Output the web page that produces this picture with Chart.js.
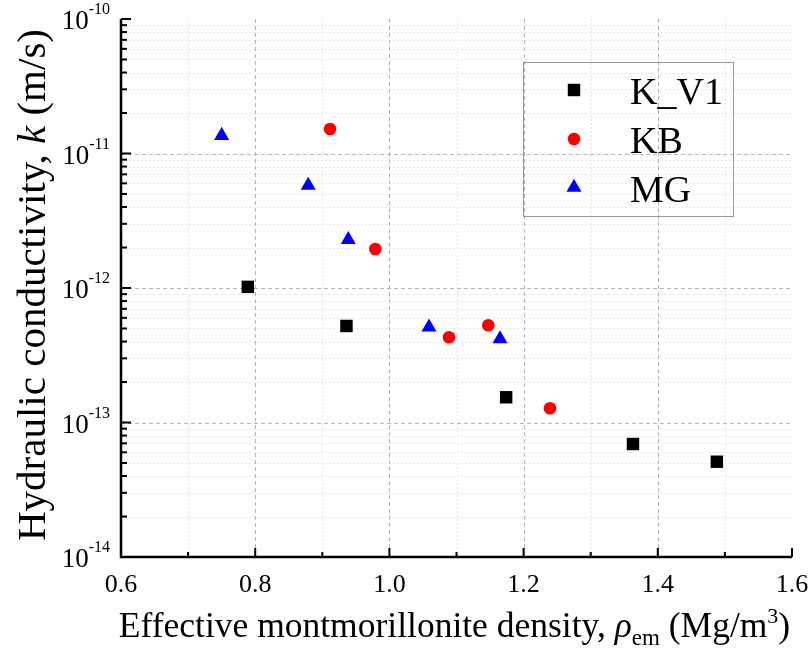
<!DOCTYPE html>
<html>
<head>
<meta charset="utf-8">
<script src="https://cdn.jsdelivr.net/npm/chart.js@4.4.1/dist/chart.umd.min.js"></script>
<style>
  html, body { margin: 0; padding: 0; background: #fff; }
  #c { display: block; }
</style>
</head>
<body>
<canvas id="c" width="810" height="650" style="width:810px;height:650px"></canvas>
<script>
// ---- data ----
const kv1X = [0.789, 0.936, 1.174, 1.363, 1.488];
const kv1Y = [1.02e-12, 5.22e-13, 1.54e-13, 6.92e-14, 5.11e-14];
const kbX  = [0.9115, 0.979, 1.0888, 1.1474, 1.2393];
const kbY  = [1.52e-11, 1.95e-12, 4.30e-13, 5.28e-13, 1.275e-13];
const mgX  = [0.750, 0.879, 0.9387, 1.059, 1.1648];
const mgY  = [1.36e-11, 5.78e-12, 2.29e-12, 5.11e-13, 4.18e-13];
const seriesNames = ['K_V1', 'KB', 'MG'];
const xTicks = [0.6, 0.8, 1.0, 1.2, 1.4, 1.6];
const xMinorTicks = [0.7, 0.9, 1.1, 1.3, 1.5];
const yTickExps = [-14, -13, -12, -11, -10];

const SERIF = '"Liberation Serif", "Times New Roman", serif';

function pts(xs, ys) { return xs.map((x, i) => ({ x: x, y: ys[i] })); }

const datasets = [
  { label: seriesNames[0], data: pts(kv1X, kv1Y), pointStyle: 'rect', pointRadius: 8.8,
    backgroundColor: '#000000', borderColor: '#000000', borderWidth: 0 },
  { label: seriesNames[1], data: pts(kbX, kbY), pointStyle: 'circle', pointRadius: 6.3,
    backgroundColor: '#ff0000', borderColor: '#ff0000', borderWidth: 0 },
  { label: seriesNames[2], data: pts(mgX, mgY), pointStyle: 'triangle', pointRadius: 8.7,
    backgroundColor: '#0000ff', borderColor: '#0000ff', borderWidth: 0 }
];

function drawRich(ctx, parts, x, y, align) {
  let total = 0;
  parts.forEach(p => { ctx.font = p.font; p.w = ctx.measureText(p.text).width; total += p.w; });
  let cx = align === 'center' ? x - total / 2 : (align === 'right' ? x - total : x);
  ctx.textAlign = 'left';
  ctx.textBaseline = 'alphabetic';
  parts.forEach(p => { ctx.font = p.font; ctx.fillText(p.text, cx, y + (p.dy || 0)); cx += p.w; });
}

function marker(ctx, style, r, x, y, color) {
  ctx.fillStyle = color;
  ctx.beginPath();
  if (style === 'rect') {
    const s = Math.SQRT1_2 * r;
    ctx.rect(x - s, y - s, 2 * s, 2 * s);
  } else if (style === 'circle') {
    ctx.arc(x, y, r, 0, Math.PI * 2);
  } else {
    ctx.moveTo(x, y - r);
    ctx.lineTo(x + 0.866 * r, y + 0.5 * r);
    ctx.lineTo(x - 0.866 * r, y + 0.5 * r);
    ctx.closePath();
  }
  ctx.fill();
}

const decor = {
  id: 'decor',
  beforeDatasetsDraw(chart) {
    const { ctx, chartArea: a, scales: { x, y } } = chart;
    ctx.save();
    ctx.lineWidth = 1;
    // minor grid
    ctx.strokeStyle = '#e8e8e8';
    ctx.setLineDash([2, 2]);
    xMinorTicks.forEach(v => {
      const px = Math.round(x.getPixelForValue(v)) + 0.5;
      ctx.beginPath(); ctx.moveTo(px, a.top); ctx.lineTo(px, a.bottom); ctx.stroke();
    });
    for (let e = yTickExps[0]; e < yTickExps[yTickExps.length - 1]; e++) {
      for (let m = 2; m <= 9; m++) {
        const py = Math.round(y.getPixelForValue(m * Math.pow(10, e))) + 0.5;
        ctx.beginPath(); ctx.moveTo(a.left, py); ctx.lineTo(a.right, py); ctx.stroke();
      }
    }
    // major grid
    ctx.strokeStyle = '#b4b4b4';
    ctx.setLineDash([4, 3]);
    xTicks.slice(1, -1).forEach(v => {
      const px = Math.round(x.getPixelForValue(v)) + 0.5;
      ctx.beginPath(); ctx.moveTo(px, a.top); ctx.lineTo(px, a.bottom); ctx.stroke();
    });
    yTickExps.slice(1, -1).forEach(e => {
      const py = Math.round(y.getPixelForValue(Math.pow(10, e))) + 0.5;
      ctx.beginPath(); ctx.moveTo(a.left, py); ctx.lineTo(a.right, py); ctx.stroke();
    });
    ctx.restore();
  },
  afterDraw(chart) {
    const { ctx, chartArea: a, scales: { x, y } } = chart;
    ctx.save();
    ctx.setLineDash([]);
    ctx.strokeStyle = '#000';
    ctx.fillStyle = '#000';
    // axes
    ctx.lineWidth = 2.5;
    ctx.beginPath();
    ctx.moveTo(a.left, a.top); ctx.lineTo(a.left, a.bottom); ctx.lineTo(a.right, a.bottom);
    ctx.stroke();
    // ticks (inward)
    ctx.lineWidth = 2;
    xTicks.forEach(v => {
      const px = x.getPixelForValue(v);
      ctx.beginPath(); ctx.moveTo(px, a.bottom); ctx.lineTo(px, a.bottom - 9); ctx.stroke();
    });
    xMinorTicks.forEach(v => {
      const px = x.getPixelForValue(v);
      ctx.beginPath(); ctx.moveTo(px, a.bottom); ctx.lineTo(px, a.bottom - 5); ctx.stroke();
    });
    yTickExps.forEach(e => {
      const py = y.getPixelForValue(Math.pow(10, e));
      ctx.beginPath(); ctx.moveTo(a.left, py); ctx.lineTo(a.left + 10, py); ctx.stroke();
    });
    for (let e = yTickExps[0]; e < yTickExps[yTickExps.length - 1]; e++) {
      for (let m = 2; m <= 9; m++) {
        const py = y.getPixelForValue(m * Math.pow(10, e));
        ctx.beginPath(); ctx.moveTo(a.left, py); ctx.lineTo(a.left + 6, py); ctx.stroke();
      }
    }
    // x tick labels
    ctx.font = '26px ' + SERIF;
    ctx.textAlign = 'center';
    ctx.textBaseline = 'alphabetic';
    xTicks.forEach(v => {
      ctx.fillText(v.toFixed(1), x.getPixelForValue(v), 592);
    });
    // y tick labels 10^e
    yTickExps.forEach(e => {
      const py = y.getPixelForValue(Math.pow(10, e));
      drawRich(ctx, [
        { text: '10', font: '27px ' + SERIF, dy: 10 },
        { text: '-' + Math.abs(e), font: '16px ' + SERIF, dy: -5 }
      ], a.left - 11, py, 'right');
    });
    // y title (rotated)
    ctx.save();
    ctx.translate(45, (a.top + a.bottom) / 2 - 3);
    ctx.rotate(-Math.PI / 2);
    drawRich(ctx, [
      { text: 'Hydraulic conductivity, ', font: '41px ' + SERIF },
      { text: 'k', font: 'italic 41px ' + SERIF },
      { text: ' (m/s)', font: '41px ' + SERIF }
    ], 0, 0, 'center');
    ctx.restore();
    // x title
    drawRich(ctx, [
      { text: 'Effective montmorillonite density, ', font: '35.5px ' + SERIF },
      { text: '\u03C1', font: 'italic 35.5px ' + SERIF },
      { text: 'em', font: '23px ' + SERIF, dy: 8 },
      { text: ' (Mg/m', font: '35.5px ' + SERIF },
      { text: '3', font: '22px ' + SERIF, dy: -14 },
      { text: ')', font: '35.5px ' + SERIF }
    ], (a.left + a.right) / 2 - 2, 637, 'center');
    // legend
    ctx.lineWidth = 1;
    ctx.strokeStyle = '#999';
    ctx.strokeRect(523.5, 62.5, 210, 154);
    const rowY = [90, 139, 187.5];
    chart.data.datasets.forEach((ds, i) => {
      marker(ctx, ds.pointStyle, ds.pointRadius, 574, rowY[i], ds.backgroundColor);
      ctx.fillStyle = '#000';
      ctx.font = '38px ' + SERIF;
      ctx.textAlign = 'left';
      ctx.textBaseline = 'alphabetic';
      ctx.fillText(ds.label, 630, rowY[i] + 14);
    });
    ctx.restore();
  }
};

new Chart(document.getElementById('c'), {
  type: 'scatter',
  data: { datasets: datasets },
  options: {
    responsive: false,
    animation: false,
    events: [],
    layout: { padding: { top: 19, right: 18, left: 0, bottom: 0 } },
    plugins: { legend: { display: false }, tooltip: { enabled: false } },
    scales: {
      x: {
        type: 'linear', min: xTicks[0], max: xTicks[xTicks.length - 1],
        afterBuildTicks: s => { s.ticks = xTicks.map(v => ({ value: v })); },
        ticks: { display: false },
        grid: { display: false, drawTicks: false },
        border: { display: false },
        afterFit: s => { s.height = 93; }
      },
      y: {
        type: 'logarithmic', min: Math.pow(10, yTickExps[0]), max: Math.pow(10, yTickExps[yTickExps.length - 1]),
        ticks: { display: false },
        grid: { display: false, drawTicks: false },
        border: { display: false },
        afterFit: s => { s.width = 121; }
      }
    }
  },
  plugins: [decor]
});
</script>
</body>
</html>
